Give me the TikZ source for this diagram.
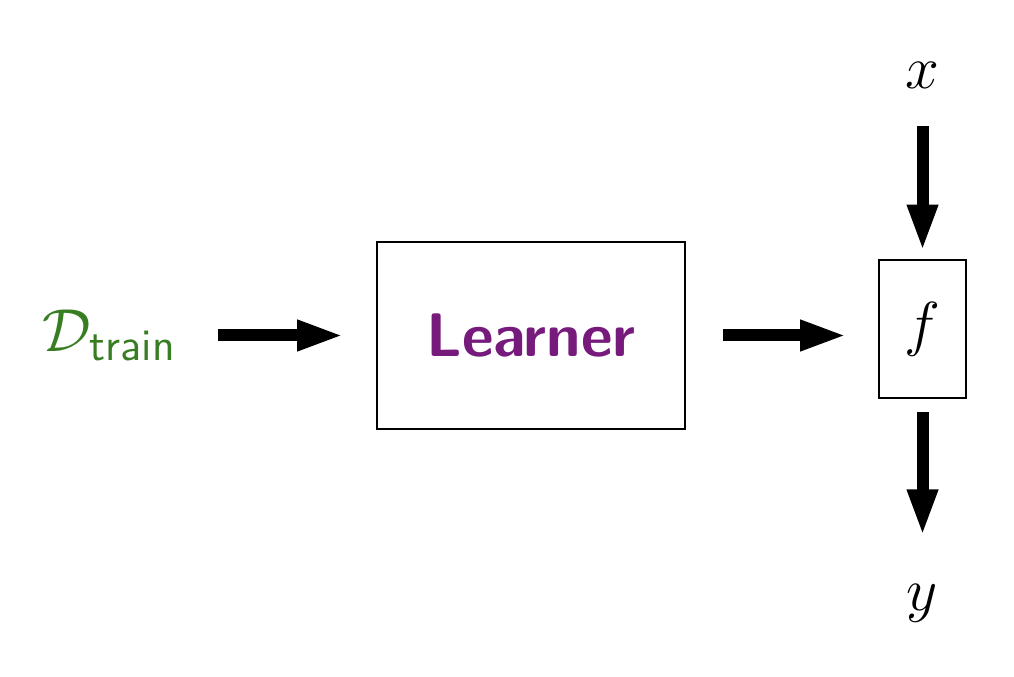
\documentclass[tikz,border=0pt]{standalone}
\usepackage{amsmath}
\usepackage{tikz}
\usepackage{xcolor}
\usetikzlibrary{positioning, arrows.meta}
\definecolor{learnpurple}{RGB}{118,26,124}
\definecolor{datagreen}{RGB}{56,125,34}

\begin{document}
\begin{tikzpicture}[
  font=\fontsize{17.5}{21}\selectfont,
  block/.style={rectangle, draw=black, line width=0.5pt, align=center},
  lbl/.style={inner sep=0pt},
  bigarr/.style={-{Triangle[length=4.7mm, width=2.8mm]}, line width=0.12cm}
]
\useasboundingbox (0,0) rectangle (10.14,6.76);

\node[block, minimum width=3.08cm, minimum height=1.87cm] (learner) at (5.31,3.405)
  {\textcolor{learnpurple}{\sffamily\bfseries Learner}};
\node[lbl, left=1.99cm of learner, text=datagreen, font=\fontsize{18.3}{22}\selectfont] (dtrain)
  {$\mathcal{D}_{\textsf{train}}$};

\node[block, minimum width=0.87cm, minimum height=1.38cm] (fbox) at (9.225,3.47) {$f$};
\node[lbl, above=1.70cm of fbox] (xin) {$x$};
\node[lbl, below=1.85cm of fbox] (yout) {$y$};

\draw[bigarr, shorten <=0.41cm, shorten >=0.32cm] (dtrain) -- (learner);
\draw[bigarr, shorten <=0.37cm, shorten >=0.31cm] (learner.east) -- (learner.east -| fbox.west);
\draw[bigarr, shorten <=0.37cm, shorten >=0.075cm] (xin) -- (fbox);
\draw[bigarr, shorten <=0.13cm, shorten >=0.475cm] (fbox) -- (yout);

\end{tikzpicture}
\end{document}
